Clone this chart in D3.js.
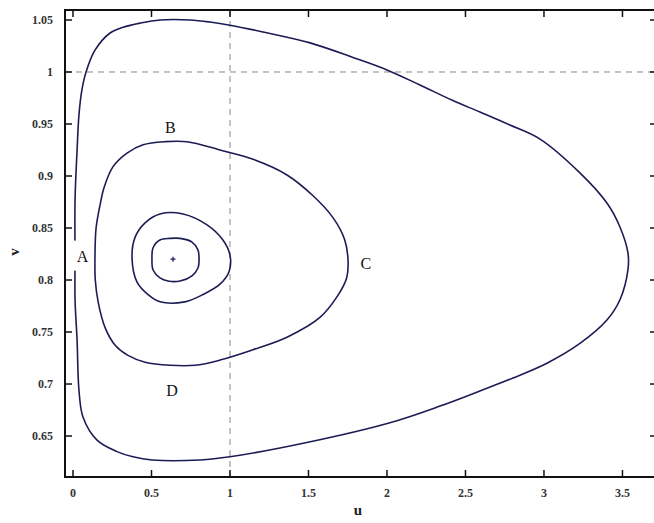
<!DOCTYPE html>
<html>
<head>
<meta charset="utf-8">
<script src="https://cdn.jsdelivr.net/npm/d3@7"></script>
<style>
  body { margin: 0; background: #fff; }
  svg { display: block; font-family: "Liberation Serif", "DejaVu Serif", serif; }
  .tick-label { font-size: 12px; font-weight: bold; fill: #333; }
  .ref-line { stroke: #888; stroke-width: 1; stroke-dasharray: 6 5; fill: none; }
  .orbit { fill: none; stroke: #1c1c55; stroke-width: 1.6; }
  .point-label { font-size: 16px; fill: #111; }
</style>
</head>
<body>
<svg id="chart"></svg>
<script>
const WIDTH = 654;
const HEIGHT = 523;

// tick values
const xTicks = [0, 0.5, 1, 1.5, 2, 2.5, 3, 3.5];
const yTicks = [0.65, 0.7, 0.75, 0.8, 0.85, 0.9, 0.95, 1, 1.05];

// closed orbits as [u, v]
const outerOrbit = [
  [0.013, 0.820], [0.013, 0.877], [0.026, 0.925], [0.038, 0.959], [0.057, 0.983],
  [0.083, 1.0], [0.140, 1.021], [0.236, 1.0375], [0.319, 1.043], [0.427, 1.047],
  [0.554, 1.05], [0.745, 1.05], [0.873, 1.048], [1.0, 1.045], [1.210, 1.0385],
  [1.510, 1.028], [1.783, 1.014], [2.0, 1.002], [2.210, 0.9875], [2.420, 0.9725],
  [2.592, 0.9615], [2.783, 0.949], [2.975, 0.9355], [3.229, 0.903], [3.401, 0.874],
  [3.484, 0.851], [3.535, 0.826], [3.535, 0.810], [3.484, 0.781], [3.401, 0.7615],
  [3.229, 0.739], [3.019, 0.720], [2.803, 0.7058], [2.592, 0.6933], [2.338, 0.6788],
  [2.013, 0.6625], [1.497, 0.644], [1.0, 0.630], [0.809, 0.627], [0.503, 0.627],
  [0.382, 0.630], [0.280, 0.635], [0.153, 0.646], [0.064, 0.668], [0.038, 0.694],
  [0.026, 0.742], [0.013, 0.781]
];
const middleOrbit = [
  [0.140, 0.824], [0.147, 0.850], [0.172, 0.872], [0.198, 0.889], [0.255, 0.909],
  [0.344, 0.922], [0.446, 0.930], [0.586, 0.933], [0.726, 0.933], [0.936, 0.925],
  [1.147, 0.916], [1.363, 0.901], [1.529, 0.881], [1.656, 0.860], [1.730, 0.839],
  [1.752, 0.819], [1.743, 0.802], [1.682, 0.784], [1.573, 0.764], [1.363, 0.745],
  [1.147, 0.733], [0.936, 0.723], [0.777, 0.718], [0.618, 0.718], [0.459, 0.721],
  [0.350, 0.7275], [0.270, 0.737], [0.205, 0.754], [0.160, 0.779], [0.142, 0.800]
];
const ringOrbit = [
  [0.376, 0.821], [0.395, 0.841], [0.459, 0.855], [0.554, 0.8635], [0.701, 0.8635],
  [0.854, 0.853], [0.955, 0.8385], [1.0, 0.824], [0.994, 0.808], [0.936, 0.796],
  [0.828, 0.786], [0.713, 0.779], [0.554, 0.779], [0.478, 0.786], [0.408, 0.798]
];
const innerOrbit = [
  [0.503, 0.820], [0.510, 0.831], [0.554, 0.8385], [0.618, 0.840], [0.682, 0.840],
  [0.758, 0.8365], [0.796, 0.829], [0.803, 0.820], [0.796, 0.8115], [0.758, 0.804],
  [0.682, 0.799], [0.605, 0.799], [0.554, 0.802], [0.510, 0.8096]
];
const orbits = [outerOrbit, middleOrbit, ringOrbit, innerOrbit];
const equilibrium = [0.637, 0.820];

// point labels
const pointLabels = [
  { text: "A", u: 0.06, v: 0.8225 },
  { text: "B", u: 0.62, v: 0.9465 },
  { text: "C", u: 1.866, v: 0.8155 },
  { text: "D", u: 0.631, v: 0.6935 }
];

const plotLeft = 65, plotRight = 657, plotTop = 10, plotBottom = 477;

const x = d3.scaleLinear().domain([-0.051, 3.72]).range([plotLeft, plotRight]);
const y = d3.scaleLinear().domain([0.6106, 1.0596]).range([plotBottom, plotTop]);

const svg = d3.select("#chart").attr("width", WIDTH).attr("height", HEIGHT);

// dashed reference lines
svg.append("line").attr("class", "ref-line")
  .attr("x1", plotLeft).attr("x2", plotRight).attr("y1", y(1)).attr("y2", y(1));
svg.append("line").attr("class", "ref-line")
  .attr("x1", x(1)).attr("x2", x(1)).attr("y1", plotTop).attr("y2", plotBottom);

// orbits
const line = d3.line()
  .x((d) => x(d[0]))
  .y((d) => y(d[1]))
  .curve(d3.curveCatmullRomClosed.alpha(0.5));
svg.append("g").selectAll("path")
  .data(orbits)
  .join("path")
  .attr("class", "orbit")
  .attr("d", line);

// equilibrium marker
const ex = x(equilibrium[0]), ey = y(equilibrium[1]);
svg.append("path")
  .attr("d", `M${ex - 2.5},${ey}H${ex + 2.5}M${ex},${ey - 2.5}V${ey + 2.5}`)
  .attr("stroke", "#1c1c55").attr("stroke-width", 1.3);

// point labels, A sits on a white backing that cuts the outer orbit
const labelGroup = svg.append("g");
pointLabels.forEach((p) => {
  const g = labelGroup.append("g");
  if (p.text === "A") {
    g.append("rect")
      .attr("x", x(p.u) - 9).attr("y", y(p.v) - 16)
      .attr("width", 17).attr("height", 30).attr("fill", "#fff");
  }
  g.append("text")
    .attr("class", "point-label")
    .attr("x", x(p.u)).attr("y", y(p.v))
    .attr("text-anchor", "middle")
    .attr("dominant-baseline", "central")
    .text(p.text);
});

// frame
svg.append("rect")
  .attr("x", plotLeft).attr("y", plotTop)
  .attr("width", plotRight - plotLeft).attr("height", plotBottom - plotTop)
  .attr("fill", "none").attr("stroke", "#111").attr("stroke-width", 2);

// inward ticks on all four sides
const tickLen = 7;
const ticks = svg.append("g").attr("stroke", "#111").attr("stroke-width", 1.5);
xTicks.forEach((t) => {
  ticks.append("line").attr("x1", x(t)).attr("x2", x(t)).attr("y1", plotBottom).attr("y2", plotBottom - tickLen);
  ticks.append("line").attr("x1", x(t)).attr("x2", x(t)).attr("y1", plotTop).attr("y2", plotTop + tickLen);
});
yTicks.forEach((t) => {
  ticks.append("line").attr("x1", plotLeft).attr("x2", plotLeft + tickLen).attr("y1", y(t)).attr("y2", y(t));
  ticks.append("line").attr("x1", plotRight).attr("x2", plotRight - tickLen).attr("y1", y(t)).attr("y2", y(t));
});

// tick labels
svg.append("g").selectAll("text")
  .data(xTicks)
  .join("text")
  .attr("class", "tick-label")
  .attr("x", (d) => x(d))
  .attr("y", plotBottom + 20)
  .attr("text-anchor", "middle")
  .text((d) => d);
svg.append("g").selectAll("text")
  .data(yTicks)
  .join("text")
  .attr("class", "tick-label")
  .attr("x", plotLeft - 12)
  .attr("y", (d) => Math.max(y(d), 16))
  .attr("text-anchor", "end")
  .attr("dominant-baseline", "central")
  .text((d) => d);

// axis titles
svg.append("text")
  .attr("x", 358).attr("y", 515)
  .attr("text-anchor", "middle")
  .attr("font-size", 15).attr("font-weight", "bold").attr("fill", "#222")
  .text("u");
svg.append("text")
  .attr("transform", "translate(14,252) rotate(-90)")
  .attr("text-anchor", "middle")
  .attr("dominant-baseline", "central")
  .attr("font-size", 15).attr("font-weight", "bold").attr("fill", "#222")
  .text("v");
</script>
</body>
</html>
